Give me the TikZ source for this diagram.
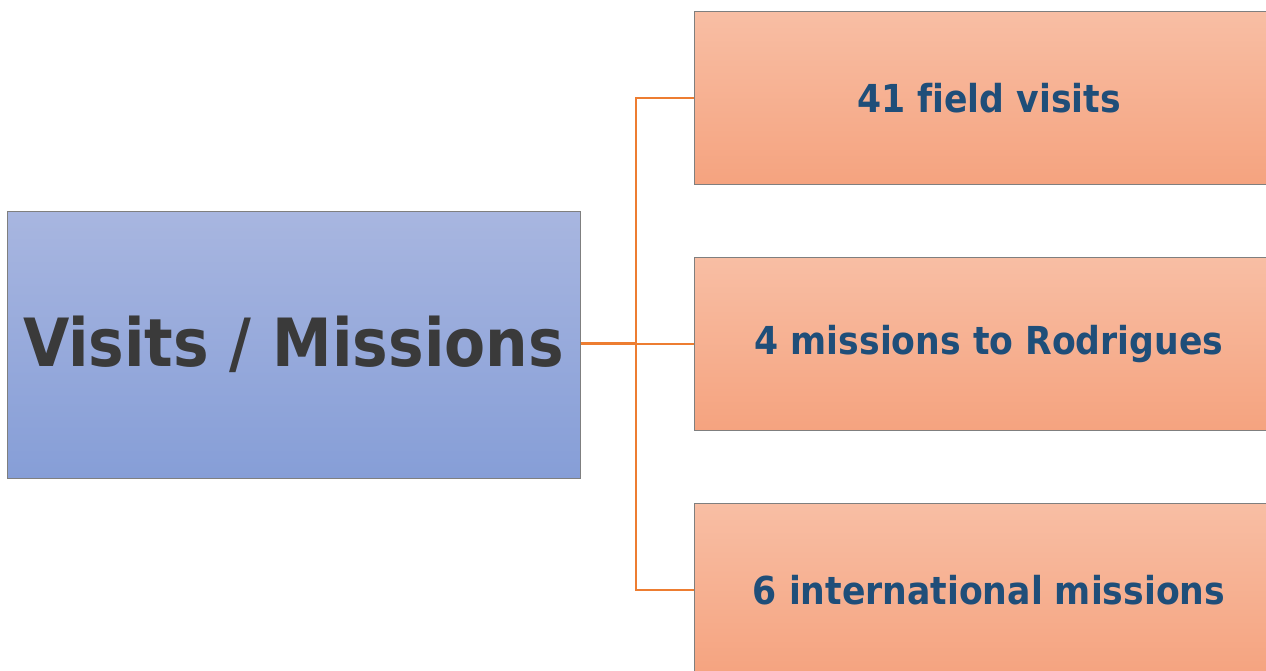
\documentclass[tikz,border=0pt]{standalone}
\usepackage{fontspec}
\setmainfont[Ligatures=NoCommon]{DejaVu Sans Condensed}
\usetikzlibrary{positioning}
\definecolor{bluetop}{HTML}{A8B6E0}
\definecolor{bluebot}{HTML}{869ED7}
\definecolor{salmontop}{HTML}{F8BEA4}
\definecolor{salmonbot}{HTML}{F5A37F}
\definecolor{edgegrey}{HTML}{7F7F7F}
\definecolor{linkorange}{HTML}{ED7D31}
\definecolor{navytext}{HTML}{1F4E79}
\definecolor{darktext}{HTML}{3A3A3A}

\begin{document}
\begin{tikzpicture}[
    x=1pt, y=-1pt,
    node distance=72pt,
    mainbox/.style={draw=edgegrey, line width=1pt, top color=bluetop, bottom color=bluebot,
        minimum width=573pt, minimum height=267pt, align=center, inner sep=0pt,
        text=darktext, font=\fontsize{66.5}{72}\selectfont\bfseries},
    itembox/.style={draw=edgegrey, line width=1pt, top color=salmontop, bottom color=salmonbot,
        minimum width=590pt, minimum height=173pt, align=center, inner sep=0pt,
        text=navytext, font=\fontsize{38.5}{44}\selectfont\bfseries},
    link/.style={draw=linkorange, line width=2pt}
]
    \useasboundingbox (0,0) rectangle (1266,670);

    \node[mainbox] (visits) at (293.5,344.5) {Visits / Missions};
    \node[itembox] (field) at (989,98) {41 field visits};
    \node[itembox] (rodrigues) [below=of field] {4 missions to Rodrigues};
    \node[itembox] (intl) [below=of rodrigues] {6 international missions};

    \coordinate (hub) at (636,343);

    \draw[link, line width=3pt] (visits.east |- hub) -- (hub);
    \draw[link] (hub) |- (field.west);
    \draw[link] (hub) |- (rodrigues.west);
    \draw[link] (hub) |- (intl.west);
\end{tikzpicture}
\end{document}
